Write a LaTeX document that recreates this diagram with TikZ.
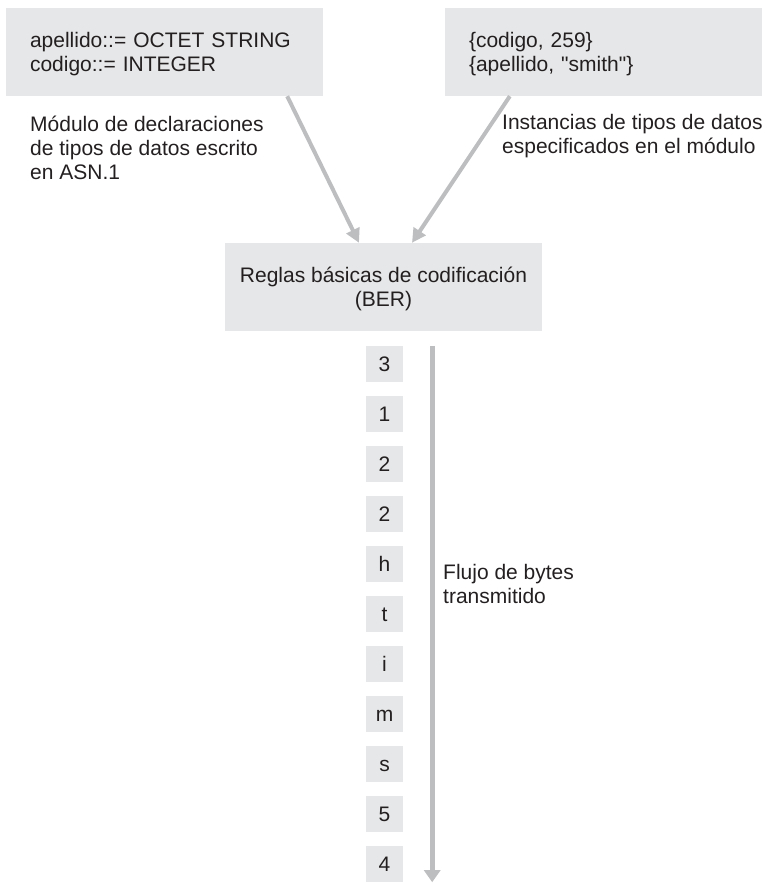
\documentclass[tikz,border=0pt]{standalone}
\usepackage{fontspec}
\setmainfont{Liberation Sans}[Ligatures=TeXOff]
\usepackage{xcolor}
\usepackage{tikz}
\usetikzlibrary{arrows.meta}

\definecolor{boxgray}{HTML}{E6E7E8}
\definecolor{arrowgray}{HTML}{BCBEC0}
\definecolor{inkgray}{HTML}{231F20}

\newcommand{\toplift}{\rule{0pt}{20pt}}

\begin{document}
\begin{tikzpicture}[x=1pt, y=-1pt, font=\fontsize{21}{24}\selectfont, text=inkgray,
    panel/.style={fill=boxgray, minimum width=317pt, minimum height=88pt, inner xsep=24pt, inner ysep=0pt},
    bytebox/.style={fill=boxgray, minimum width=37pt, minimum height=36pt, inner sep=0pt, text height=15pt, text depth=0pt},
    caption/.style={align=left, inner sep=0pt, anchor=north west},
    flow/.style={draw=arrowgray, line width=4pt, -{Triangle[length=14pt, width=14pt]}}]
\useasboundingbox (0,0) rectangle (770,883);

\node[panel, text width=269pt, align=left] (decl) at (164.5,52) {\toplift apellido::= OCTET STRING\\codigo::= INTEGER};
\node[panel, text width=269pt, align=left] (inst) at (603.5,52) {\toplift\{codigo, 259\}\\\{apellido, "smith"\}};
\node[panel, inner xsep=8pt, align=center] (ber) at (383.5,287) {\toplift Reglas básicas de codificación\\(BER)};

\node[caption] (decltxt) at (30,115.5) {Módulo de declaraciones\\de tipos de datos escrito\\en ASN.1};
\node[caption] (insttxt) at (502,114) {Instancias de tipos de datos\\especificados en el módulo};

\draw[flow] ([xshift=-36pt]decl.south east) -- ([xshift=-24.5pt]ber.north);
\draw[flow] ([xshift=65pt]inst.south west) -- ([xshift=28.5pt]ber.north);

\foreach \c [count=\i] in {3,1,2,2,h,t,i,m,s,5,4}
    \node[bytebox] (b\i) at (384.5,{364+50*(\i-1)}) {\c};

\coordinate (flowtop) at ([xshift=29pt]b1.north east);
\draw[flow, line width=5pt, -{Triangle[length=12pt, width=16pt]}] (flowtop) -- (flowtop |- b11.south);
\node[caption] (flowtxt) at (443,564) {Flujo de bytes\\transmitido};
\end{tikzpicture}
\end{document}
